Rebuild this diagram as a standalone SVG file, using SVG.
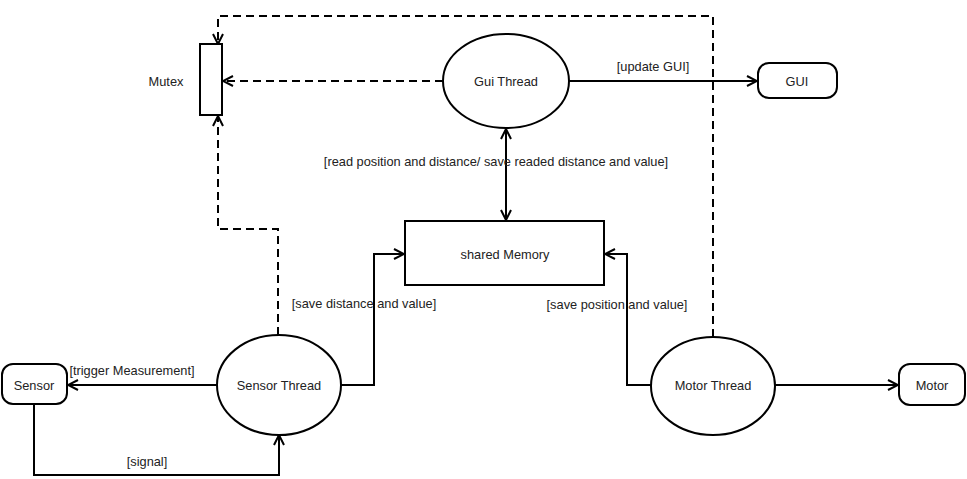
<svg xmlns="http://www.w3.org/2000/svg" width="967" height="479" viewBox="0 0 967 479">
<defs>
<marker id="arr" viewBox="0 0 12 12" markerWidth="12" markerHeight="12" refX="11" refY="6" orient="auto-start-reverse" markerUnits="userSpaceOnUse">
<path d="M1,1 L11,6 L1,11" fill="none" stroke="#000" stroke-width="2"/>
</marker>
</defs>
<style>
text{font-family:"Liberation Sans",Arial,sans-serif;font-size:12.8px;fill:#222}
.shape{fill:#fff;stroke:#000;stroke-width:2}
.line{fill:none;stroke:#000;stroke-width:2}
.dash{fill:none;stroke:#000;stroke-width:2;stroke-dasharray:8,5}
</style>
<rect width="967" height="479" fill="#fff"/>
<g id="connectors">
<path class="dash" d="M713,337 V16 H218 V44" marker-end="url(#arr)"/>
<path class="dash" d="M443,81 H223" marker-end="url(#arr)"/>
<path class="dash" d="M278,335 V229 H218 V116" marker-end="url(#arr)"/>
<path class="line" d="M569,81 H757" marker-end="url(#arr)"/>
<path class="line" d="M506,129 V220" marker-start="url(#arr)" marker-end="url(#arr)"/>
<path class="line" d="M217,385 H68" marker-end="url(#arr)"/>
<path class="line" d="M34,404 V475 H279 V435" marker-end="url(#arr)"/>
<path class="line" d="M341,385 H374 V254 H404" marker-end="url(#arr)"/>
<path class="line" d="M651,385 H627 V254 H605" marker-end="url(#arr)"/>
<path class="line" d="M775,385 H898" marker-end="url(#arr)"/>
<text x="653" y="71" text-anchor="middle">[update GUI]</text>
<text x="496" y="166" text-anchor="middle">[read position and distance/ save readed distance and value]</text>
<text x="132" y="375" text-anchor="middle">[trigger Measurement]</text>
<text x="147" y="466" text-anchor="middle">[signal]</text>
<text x="364" y="308" text-anchor="middle">[save distance and value]</text>
<text x="617" y="309" text-anchor="middle">[save position and value]</text>
</g>
<g id="mutex">
<rect class="shape" x="200" y="44" width="22" height="71"/>
<text x="166" y="86" text-anchor="middle">Mutex</text>
</g>
<g id="gui-thread">
<ellipse class="shape" cx="506" cy="81" rx="63" ry="47"/>
<text x="506" y="86" text-anchor="middle">Gui Thread</text>
</g>
<g id="gui">
<rect class="shape" x="758" y="63" width="79" height="35" rx="11"/>
<text x="797" y="86" text-anchor="middle">GUI</text>
</g>
<g id="shared-memory">
<rect class="shape" x="405" y="221" width="199" height="64"/>
<text x="505" y="259" text-anchor="middle">shared Memory</text>
</g>
<g id="sensor-thread">
<ellipse class="shape" cx="279" cy="385" rx="62" ry="50"/>
<text x="279" y="390" text-anchor="middle">Sensor Thread</text>
</g>
<g id="sensor">
<rect class="shape" x="2" y="364" width="65" height="40" rx="11"/>
<text x="34" y="390" text-anchor="middle">Sensor</text>
</g>
<g id="motor-thread">
<ellipse class="shape" cx="713" cy="386" rx="62" ry="49"/>
<text x="713" y="390" text-anchor="middle">Motor Thread</text>
</g>
<g id="motor">
<rect class="shape" x="899" y="364" width="66" height="41" rx="11"/>
<text x="932" y="390" text-anchor="middle">Motor</text>
</g>
</svg>
